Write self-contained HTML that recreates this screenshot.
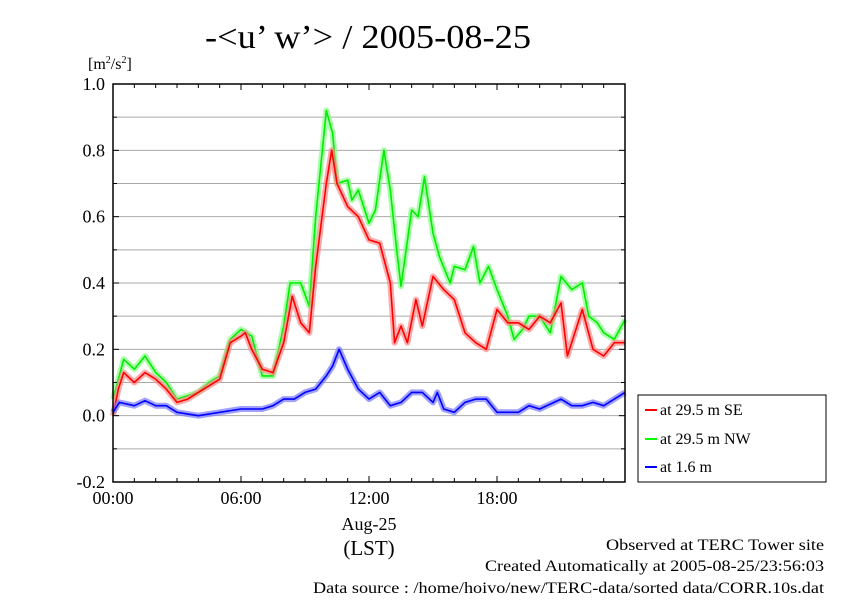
<!DOCTYPE html>
<html><head><meta charset="utf-8"><style>
body{margin:0;background:#fff}
svg text{font-family:"Liberation Serif",serif;fill:#000}
</style></head><body>
<svg width="842" height="595" viewBox="0 0 842 595" id="c">
<text x="205" y="48" font-size="34" textLength="326" lengthAdjust="spacingAndGlyphs">-&lt;u’ w’&gt; / 2005-08-25</text>
<text x="88" y="69" font-size="16">[m<tspan font-size="10" dy="-6">2</tspan><tspan dy="6">/s</tspan><tspan font-size="10" dy="-6">2</tspan><tspan dy="6">]</tspan></text>
<g id="grid"></g><g id="series"></g><g id="axes"></g>
<text x="369" y="530" font-size="18" text-anchor="middle">Aug-25</text>
<text x="369" y="555" font-size="21" text-anchor="middle">(LST)</text>
<text x="824" y="550" font-size="16" text-anchor="end" textLength="218" lengthAdjust="spacingAndGlyphs">Observed at TERC Tower site</text>
<text x="824" y="571" font-size="16" text-anchor="end" textLength="339" lengthAdjust="spacingAndGlyphs">Created Automatically at 2005-08-25/23:56:03</text>
<text x="824" y="593" font-size="16" text-anchor="end" textLength="511" lengthAdjust="spacingAndGlyphs">Data source : /home/hoivo/new/TERC-data/sorted  data/CORR.10s.dat</text>
<g>
<rect x="638" y="395" width="188" height="87" fill="#fff" stroke="#000"/>
<g><line x1="645" y1="410" x2="657" y2="410" stroke="#f00" stroke-width="2"/><text x="660" y="415" font-size="16">at 29.5 m SE</text></g>
<g><line x1="645" y1="439" x2="657" y2="439" stroke="#0f0" stroke-width="2"/><text x="660" y="444" font-size="16">at 29.5 m NW</text></g>
<g><line x1="645" y1="467" x2="657" y2="467" stroke="#00f" stroke-width="2"/><text x="660" y="472" font-size="16">at 1.6 m</text></g>
</g>
</svg>
<script>
const yTicks=[-0.2,0,0.2,0.4,0.6,0.8,1.0];
const yTickLabels=["-0.2","0.0","0.2","0.4","0.6","0.8","1.0"];
const xTicks=[0,6,12,18];
const xTickLabels=["00:00","06:00","12:00","18:00"];
const seT=[0,0.25,0.5,1,1.5,2,2.5,3,3.5,4,4.5,5,5.5,6,6.2,6.5,7,7.5,8,8.4,8.8,9.2,9.5,10,10.25,10.5,11,11.5,12,12.5,13,13.2,13.5,13.8,14.2,14.5,15,15.5,16,16.5,17,17.5,18,18.5,19,19.5,20,20.5,21,21.3,22,22.5,23,23.5,24];
const seV=[0,0.08,0.13,0.10,0.13,0.11,0.08,0.04,0.05,0.07,0.09,0.11,0.22,0.24,0.25,0.20,0.14,0.13,0.22,0.36,0.28,0.25,0.45,0.70,0.80,0.70,0.63,0.60,0.53,0.52,0.40,0.22,0.27,0.22,0.35,0.27,0.42,0.38,0.35,0.25,0.22,0.20,0.32,0.28,0.28,0.26,0.30,0.28,0.34,0.18,0.32,0.20,0.18,0.22,0.22];
const nwT=[0,0.5,1,1.5,2,2.5,3,3.5,4,4.5,5,5.5,6,6.5,7,7.5,8,8.3,8.8,9.2,9.5,10,10.3,10.5,11,11.2,11.5,12,12.3,12.7,13,13.3,13.5,14,14.3,14.6,15,15.3,15.8,16,16.5,16.9,17.2,17.6,18,18.5,18.8,19.2,19.5,20,20.5,21,21.5,22,22.3,22.7,23,23.5,24];
const nwV=[0.05,0.17,0.14,0.18,0.13,0.10,0.05,0.06,0.07,0.10,0.12,0.23,0.26,0.24,0.12,0.12,0.27,0.40,0.40,0.33,0.60,0.92,0.85,0.70,0.71,0.65,0.68,0.58,0.62,0.80,0.68,0.50,0.39,0.62,0.60,0.72,0.55,0.48,0.40,0.45,0.44,0.51,0.40,0.45,0.38,0.30,0.23,0.26,0.30,0.30,0.25,0.42,0.38,0.40,0.30,0.28,0.25,0.23,0.29];
const lowT=[0,0.3,1,1.5,2,2.5,3,4,5,6,7,7.5,8,8.5,9,9.5,10,10.3,10.6,11,11.5,12,12.5,13,13.5,14,14.5,15,15.2,15.5,16,16.5,17,17.5,18,19,19.5,20,21,21.5,22,22.5,23,23.5,24];
const lowV=[0.01,0.04,0.03,0.045,0.03,0.03,0.01,0,0.01,0.02,0.02,0.03,0.05,0.05,0.07,0.08,0.12,0.15,0.20,0.14,0.08,0.05,0.07,0.03,0.04,0.07,0.07,0.04,0.07,0.02,0.01,0.04,0.05,0.05,0.01,0.01,0.03,0.02,0.05,0.03,0.03,0.04,0.03,0.05,0.07];
const NS="http://www.w3.org/2000/svg";
const X0=113,X1=625,Y0=482,Y1=84;
const xs=h=>X0+(X1-X0)*h/24;
const ys=v=>Y0-(Y0-Y1)*(v+0.2)/1.2;
function mk(t,a,p){const e=document.createElementNS(NS,t);for(const k in a)e.setAttribute(k,a[k]);p.appendChild(e);return e;}
const grid=document.getElementById('grid'),axes=document.getElementById('axes'),ser=document.getElementById('series');
for(let i=-1;i<=9;i++){const v=i/10;const l=mk('line',{x1:X0,x2:X1,y1:ys(v),y2:ys(v),stroke:'#aaa','stroke-width':1},grid);

}
const fr=mk('rect',{x:X0,y:Y1,width:X1-X0,height:Y0-Y1,fill:'none',stroke:'#000','stroke-width':1.5},axes);


for(let h=1;h<24;h++){const L=h%6==0?6:4;mk('line',{x1:xs(h),x2:xs(h),y1:Y0,y2:Y0-L,stroke:'#000'},axes);mk('line',{x1:xs(h),x2:xs(h),y1:Y1,y2:Y1+L,stroke:'#000'},axes);}
for(let i=-1;i<=9;i++){const v=i/10,L=i%2==0?6:4;mk('line',{x1:X0,x2:X0+L,y1:ys(v),y2:ys(v),stroke:'#000'},axes);mk('line',{x1:X1,x2:X1-L,y1:ys(v),y2:ys(v),stroke:'#000'},axes);}
yTicks.forEach((v,i)=>{const t=mk('text',{x:X0-8,y:ys(v)+6,'font-size':18,'text-anchor':'end'},axes);t.textContent=yTickLabels[i];

});
xTicks.forEach((h,i)=>{const t=mk('text',{x:xs(h),y:504,'font-size':18,'text-anchor':'middle'},axes);t.textContent=xTickLabels[i];

});
function series(T,V,col,halo,name){const d=T.map((h,i)=>(i?'L':'M')+xs(h).toFixed(1)+','+ys(V[i]).toFixed(1)).join('');
const g=mk('g',{},ser);


mk('path',{d:d,fill:'none',stroke:halo,'stroke-width':6,'stroke-linejoin':'round',opacity:0.7},g);
mk('path',{d:d,fill:'none',stroke:col,'stroke-width':1.6,'stroke-linejoin':'round'},g);}
series(nwT,nwV,'#00ee00','#88ff88','series-nw');
series(seT,seV,'#ff0000','#ff8888','series-se');
series(lowT,lowV,'#0000ff','#7777ff','series-1m');
</script>
</body></html>
